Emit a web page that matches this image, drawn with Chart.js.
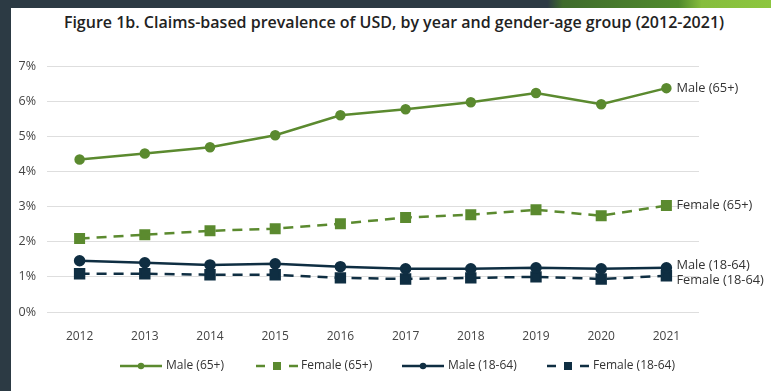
<!DOCTYPE html>
<html>
<head>
<meta charset="utf-8">
<script src="https://cdn.jsdelivr.net/npm/chart.js@4"></script>
<style>
  html, body { margin: 0; padding: 0; }
  body { width: 771px; height: 391px; position: relative; overflow: hidden; background: #2c3a44; }
  #panel { position: absolute; left: 11px; top: 8px; right: 0; bottom: 0; background: #ffffff; }
  #band { position: absolute; left: 0; top: 0; width: 771px; height: 8px;
    background: linear-gradient(to right, #2c3a44 0%, #2c3a44 71%, #3f6b2c 73%, #4f8a2c 88%, #86bd3c 91%, #8cc63f 100%); }
  #title { position: absolute; left: 0; width: 788px; top: 11px; text-align: center;
    font: 600 16px "Open Sans", sans-serif; color: #222; }
  #wrap { position: absolute; left: 0; top: 0; width: 771px; height: 391px; }
</style>
</head>
<body>
<div id="band"></div>
<div id="panel"></div>
<div id="title">Figure 1b. Claims-based prevalence of USD, by year and gender-age group (2012-2021)</div>
<div id="wrap"><canvas id="chart" width="771" height="391"></canvas></div>
<script>
// --- data ---
const years = ['2012', '2013', '2014', '2015', '2016', '2017', '2018', '2019', '2020', '2021'];
const male65 = [4.34, 4.51, 4.69, 5.03, 5.60, 5.77, 5.97, 6.23, 5.91, 6.37];
const female65 = [2.09, 2.20, 2.31, 2.37, 2.51, 2.69, 2.77, 2.91, 2.74, 3.03];
const male1864 = [1.46, 1.40, 1.34, 1.37, 1.29, 1.23, 1.23, 1.26, 1.23, 1.26];
const female1864 = [1.09, 1.09, 1.06, 1.06, 0.97, 0.94, 0.97, 1.00, 0.94, 1.03];
const seriesNames = ['Male (65+)', 'Female (65+)', 'Male (18-64)', 'Female (18-64)'];

const GREEN = '#5b8a2f';
const NAVY = '#0f2e42';
const FONT = '"Open Sans", sans-serif';

// labels next to the last point of every line
const endLabels = {
  id: 'endLabels',
  afterDatasetsDraw(chart) {
    const ctx = chart.ctx;
    const offsets = [0, 0, -2, 5];
    ctx.save();
    ctx.font = '12.8px ' + FONT;
    ctx.fillStyle = '#333';
    ctx.textBaseline = 'middle';
    chart.data.datasets.forEach((ds, i) => {
      const pts = chart.getDatasetMeta(i).data;
      const p = pts[pts.length - 1];
      ctx.fillText(ds.label, p.x + 10, p.y + offsets[i]);
    });
    ctx.restore();
  }
};

// legend at the bottom: line sample + marker + text
const bottomLegend = {
  id: 'bottomLegend',
  afterDraw(chart) {
    const ctx = chart.ctx;
    const y = 366;
    const items = [
      { x0: 120, x1: 162, text: 166 },
      { x0: 256, x1: 298, text: 301 },
      { x0: 402, x1: 444, text: 448 },
      { x0: 547, x1: 589, text: 593 }
    ];
    ctx.save();
    ctx.font = '12px ' + FONT;
    ctx.textBaseline = 'middle';
    chart.data.datasets.forEach((ds, i) => {
      const it = items[i];
      const cx = (it.x0 + it.x1) / 2;
      ctx.strokeStyle = ds.borderColor;
      ctx.fillStyle = ds.pointBackgroundColor;
      ctx.lineWidth = 2.5;
      ctx.beginPath();
      if (ds.pointStyle === 'rect') {
        ctx.moveTo(it.x0, y); ctx.lineTo(it.x0 + 9, y);
        ctx.moveTo(it.x1 - 9, y); ctx.lineTo(it.x1, y);
        ctx.stroke();
        ctx.fillRect(cx - 4, y - 4, 8, 8);
      } else {
        ctx.moveTo(it.x0, y); ctx.lineTo(it.x1, y);
        ctx.stroke();
        ctx.beginPath();
        ctx.arc(cx, y, 3.2, 0, Math.PI * 2);
        ctx.fill();
      }
      ctx.fillStyle = '#333';
      ctx.fillText(ds.label, it.text, y);
    });
    ctx.restore();
  }
};

const mk = (label, data, color, style, dash, radius) => ({
  label: label,
  data: data,
  borderColor: color,
  backgroundColor: color,
  pointBackgroundColor: color,
  pointBorderColor: color,
  pointStyle: style,
  pointRadius: radius,
  pointHoverRadius: radius,
  borderWidth: 2.5,
  borderDash: dash,
  tension: 0,
  fill: false
});

new Chart(document.getElementById('chart'), {
  type: 'line',
  data: {
    labels: years,
    datasets: [
      mk(seriesNames[0], male65, GREEN, 'circle', [], 4),
      mk(seriesNames[1], female65, GREEN, 'rect', [10, 7], 6),
      mk(seriesNames[2], male1864, NAVY, 'circle', [], 4.5),
      mk(seriesNames[3], female1864, NAVY, 'rect', [10, 7], 6.3)
    ]
  },
  options: {
    responsive: false,
    animation: false,
    devicePixelRatio: 1,
    layout: { padding: { left: 0, right: 72, top: 66, bottom: 49 } },
    plugins: {
      legend: { display: false },
      tooltip: { enabled: false }
    },
    scales: {
      x: {
        offset: true,
        grid: { display: false },
        border: { display: false },
        ticks: { color: '#444', font: { family: FONT, size: 12 }, padding: 9, autoSkip: false, maxRotation: 0 },
        afterFit: (s) => { s.height = 30; }
      },
      y: {
        min: 0,
        max: 7,
        grid: { color: '#dedede', lineWidth: 1, drawTicks: false },
        border: { display: false },
        ticks: {
          stepSize: 1,
          padding: 11,
          color: '#444',
          font: { family: FONT, size: 12.5 },
          callback: (v) => v + '%'
        },
        afterFit: (s) => { s.width = 47; }
      }
    }
  },
  plugins: [endLabels, bottomLegend]
});
</script>
</body>
</html>
